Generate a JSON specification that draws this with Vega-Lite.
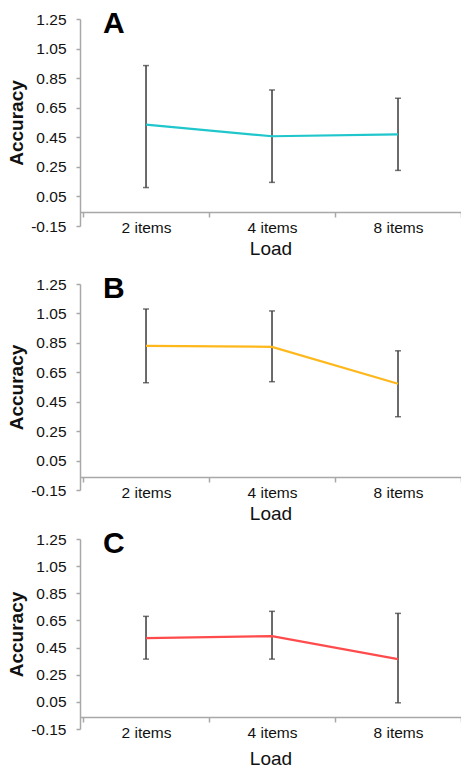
{
  "$schema": "https://vega.github.io/schema/vega-lite/v6.json",
  "padding": {"top": 9, "left": 7, "right": 0, "bottom": 0},
  "background": "white",
  "datasets": {
    "A": [
      {"load": "2 items", "mean": 0.535, "lo": 0.11, "hi": 0.935},
      {"load": "4 items", "mean": 0.457, "lo": 0.145, "hi": 0.77},
      {"load": "8 items", "mean": 0.47, "lo": 0.226, "hi": 0.714}
    ],
    "B": [
      {"load": "2 items", "mean": 0.83, "lo": 0.579, "hi": 1.08},
      {"load": "4 items", "mean": 0.823, "lo": 0.586, "hi": 1.067},
      {"load": "8 items", "mean": 0.572, "lo": 0.348, "hi": 0.796}
    ],
    "C": [
      {"load": "2 items", "mean": 0.519, "lo": 0.365, "hi": 0.68},
      {"load": "4 items", "mean": 0.534, "lo": 0.365, "hi": 0.717},
      {"load": "8 items", "mean": 0.365, "lo": 0.043, "hi": 0.702}
    ]
  },
  "config": {
    "font": "Liberation Sans",
    "view": {"stroke": null},
    "axis": {
      "grid": false,
      "domainColor": "#a8a8a8",
      "domainWidth": 1.5,
      "tickColor": "#a8a8a8",
      "tickWidth": 1.5,
      "labelColor": "#111111",
      "titleColor": "#111111",
      "labelFontSize": 15.5,
      "titleFontSize": 19,
      "titleFontWeight": "normal"
    },
    "axisY": {"tickSize": 4, "labelPadding": 10, "titlePadding": 4, "titleFontWeight": "bold", "labelOverlap": false, "tickCount": 20},
    "axisX": {"tickSize": 5, "labelPadding": 3, "titlePadding": 4, "labelAngle": 0, "tickBand": "extent"},
    "title": {"anchor": "start", "frame": "group", "fontSize": 30, "fontWeight": "bold", "color": "#000000", "dx": 23, "baseline": "alphabetic", "offset": -27}
  },
  "spacing": 15,
  "vconcat": [
    {
      "title": {"text": "A"},
      "width": 381,
      "height": 207,
      "data": {"name": "A"},
      "encoding": {
        "x": {"field": "load", "type": "nominal", "sort": ["2 items", "4 items", "8 items"], "title": "Load", "scale": {"paddingInner": 0, "paddingOuter": 0.012, "align": 1}, "axis": {"offset": -14}}
      },
      "layer": [
        {"mark": {"type": "rule", "color": "#3a3a3a", "strokeWidth": 1.5}, "encoding": {"y": {"field": "lo", "type": "quantitative", "scale": {"domain": [-0.15, 1.25], "nice": false, "zero": false}, "axis": {"title": "Accuracy", "tickCount": 20, "labelOverlap": false, "values": [-0.15, 0.05, 0.25, 0.45, 0.65, 0.85, 1.05, 1.25], "labelExpr": "datum.value < 0 ? '-' + format(-datum.value, '.2f') : format(datum.value, '.2f')"}}, "y2": {"field": "hi"}}},
        {"mark": {"type": "tick", "color": "#3a3a3a", "size": 6, "thickness": 1.5}, "encoding": {"y": {"field": "lo", "type": "quantitative"}}},
        {"mark": {"type": "tick", "color": "#3a3a3a", "size": 6, "thickness": 1.5}, "encoding": {"y": {"field": "hi", "type": "quantitative"}}},
        {"mark": {"type": "line", "color": "#1fc6cc", "strokeWidth": 2.2}, "encoding": {"y": {"field": "mean", "type": "quantitative"}}}
      ]
    },
    {
      "spacing": 5,
      "vconcat": [
        {
          "title": {"text": "B"},
          "width": 381,
          "height": 206,
          "data": {"name": "B"},
          "encoding": {
            "x": {"field": "load", "type": "nominal", "sort": ["2 items", "4 items", "8 items"], "title": "Load", "scale": {"paddingInner": 0, "paddingOuter": 0.012, "align": 1}, "axis": {"offset": -13}}
          },
          "layer": [
            {"mark": {"type": "rule", "color": "#3a3a3a", "strokeWidth": 1.5}, "encoding": {"y": {"field": "lo", "type": "quantitative", "scale": {"domain": [-0.15, 1.25], "nice": false, "zero": false}, "axis": {"title": "Accuracy", "tickCount": 20, "labelOverlap": false, "values": [-0.15, 0.05, 0.25, 0.45, 0.65, 0.85, 1.05, 1.25], "labelExpr": "datum.value < 0 ? '-' + format(-datum.value, '.2f') : format(datum.value, '.2f')"}}, "y2": {"field": "hi"}}},
            {"mark": {"type": "tick", "color": "#3a3a3a", "size": 6, "thickness": 1.5}, "encoding": {"y": {"field": "lo", "type": "quantitative"}}},
            {"mark": {"type": "tick", "color": "#3a3a3a", "size": 6, "thickness": 1.5}, "encoding": {"y": {"field": "hi", "type": "quantitative"}}},
            {"mark": {"type": "line", "color": "#ffb81c", "strokeWidth": 2.2}, "encoding": {"y": {"field": "mean", "type": "quantitative"}}}
          ]
        },
        {
          "title": {"text": "C"},
          "width": 381,
          "height": 190,
          "data": {"name": "C"},
          "encoding": {
            "x": {"field": "load", "type": "nominal", "sort": ["2 items", "4 items", "8 items"], "title": "Load", "scale": {"paddingInner": 0, "paddingOuter": 0.012, "align": 1}, "axis": {"offset": -12, "titlePadding": 9}}
          },
          "layer": [
            {"mark": {"type": "rule", "color": "#3a3a3a", "strokeWidth": 1.5}, "encoding": {"y": {"field": "lo", "type": "quantitative", "scale": {"domain": [-0.15, 1.25], "nice": false, "zero": false}, "axis": {"title": "Accuracy", "tickCount": 20, "labelOverlap": false, "values": [-0.15, 0.05, 0.25, 0.45, 0.65, 0.85, 1.05, 1.25], "labelExpr": "datum.value < 0 ? '-' + format(-datum.value, '.2f') : format(datum.value, '.2f')"}}, "y2": {"field": "hi"}}},
            {"mark": {"type": "tick", "color": "#3a3a3a", "size": 6, "thickness": 1.5}, "encoding": {"y": {"field": "lo", "type": "quantitative"}}},
            {"mark": {"type": "tick", "color": "#3a3a3a", "size": 6, "thickness": 1.5}, "encoding": {"y": {"field": "hi", "type": "quantitative"}}},
            {"mark": {"type": "line", "color": "#ff4b4b", "strokeWidth": 2.2}, "encoding": {"y": {"field": "mean", "type": "quantitative"}}}
          ]
        }
      ]
    }
  ]
}
